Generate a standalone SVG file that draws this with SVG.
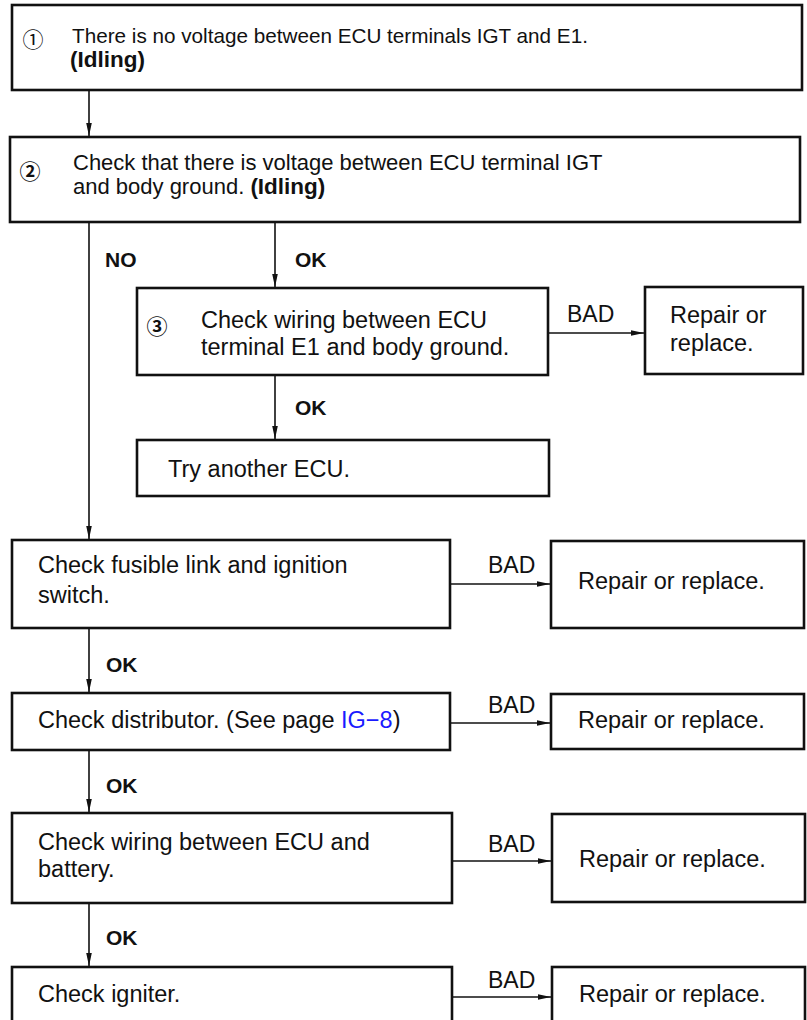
<svg xmlns="http://www.w3.org/2000/svg" width="807" height="1020" viewBox="0 0 807 1020">
<style>
.box{fill:#fff;stroke:#111;stroke-width:2.6}
.t{font-family:"Liberation Sans",Arial,sans-serif;font-size:23.5px;fill:#111}
.b{font-weight:bold}
.lbl{font-family:"Liberation Sans",Arial,sans-serif;font-size:21px;font-weight:bold;fill:#111}
.bad{font-family:"Liberation Sans",Arial,sans-serif;font-size:23px;fill:#111}
.num{font-family:"Noto Sans CJK JP","DejaVu Sans",sans-serif;font-size:21px;fill:#111;text-anchor:middle}
.link{fill:#1a1aff}
.c{stroke:#111;stroke-width:1.6;fill:none;marker-end:url(#ah)}
</style>
<defs>
<marker id="ah" markerUnits="userSpaceOnUse" markerWidth="14" markerHeight="8" refX="13" refY="4" orient="auto">
<path d="M0,1.2 L13,4 L0,6.8 Z" fill="#111"/>
</marker>
</defs>
<rect width="807" height="1020" fill="#fff"/>
<g id="connectors">
<path class="c" d="M89,90 V136"/>
<path class="c" d="M89,222 V539"/>
<path class="c" d="M275,222 V287"/>
<path class="c" d="M548,333 H644"/>
<path class="c" d="M275,375 V439"/>
<path class="c" d="M450,584 H550"/>
<path class="c" d="M89,628 V692"/>
<path class="c" d="M450,723 H550"/>
<path class="c" d="M89,750 V812"/>
<path class="c" d="M452,861 H551"/>
<path class="c" d="M89,903 V966"/>
<path class="c" d="M452,997 H551"/>
<text class="lbl" x="105" y="267">NO</text>
<text class="lbl" x="295" y="267">OK</text>
<text class="lbl" x="295" y="415">OK</text>
<text class="lbl" x="106" y="672">OK</text>
<text class="lbl" x="106" y="793">OK</text>
<text class="lbl" x="106" y="945">OK</text>
<text class="bad" x="567" y="322">BAD</text>
<text class="bad" x="488" y="573">BAD</text>
<text class="bad" x="488" y="713">BAD</text>
<text class="bad" x="488" y="852">BAD</text>
<text class="bad" x="488" y="988">BAD</text>
</g>
<g id="n1">
<rect class="box" x="12" y="5" width="790" height="85"/>
<text class="num" x="33" y="47">①</text>
<text class="t" x="72" y="43" style="font-size:20.7px">There is no voltage between ECU terminals IGT and E1.</text>
<text class="t b" x="70" y="67" style="font-size:22.5px">(Idling)</text>
</g>
<g id="n2">
<rect class="box" x="10" y="137" width="790" height="85"/>
<text class="num b" x="30" y="179">②</text>
<text class="t" x="73" y="170" style="font-size:22px">Check that there is voltage between ECU terminal IGT</text>
<text class="t" x="73" y="194" style="font-size:22px">and body ground. <tspan class="b" style="font-size:22.5px">(Idling)</tspan></text>
</g>
<g id="n3">
<rect class="box" x="137" y="288" width="411" height="87"/>
<text class="num b" x="157" y="334">③</text>
<text class="t" x="201" y="328">Check wiring between ECU</text>
<text class="t" x="201" y="355">terminal E1 and body ground.</text>
</g>
<g id="r1">
<rect class="box" x="645" y="287" width="158" height="87"/>
<text class="t" x="670" y="323">Repair or</text>
<text class="t" x="670" y="351">replace.</text>
</g>
<g id="n4">
<rect class="box" x="137" y="440" width="412" height="56"/>
<text class="t" x="168" y="477">Try another ECU.</text>
</g>
<g id="n5">
<rect class="box" x="12" y="540" width="438" height="88"/>
<text class="t" x="38" y="573">Check fusible link and ignition</text>
<text class="t" x="38" y="603">switch.</text>
</g>
<g id="r2">
<rect class="box" x="551" y="541" width="253" height="87"/>
<text class="t" x="578" y="589">Repair or replace.</text>
</g>
<g id="n6">
<rect class="box" x="12" y="693" width="438" height="57"/>
<text class="t" x="38" y="728">Check distributor. (See page <tspan class="link">IG−8</tspan>)</text>
</g>
<g id="r3">
<rect class="box" x="551" y="694" width="253" height="55"/>
<text class="t" x="578" y="728">Repair or replace.</text>
</g>
<g id="n7">
<rect class="box" x="12" y="813" width="440" height="90"/>
<text class="t" x="38" y="850">Check wiring between ECU and</text>
<text class="t" x="38" y="877">battery.</text>
</g>
<g id="r4">
<rect class="box" x="552" y="814" width="253" height="88"/>
<text class="t" x="579" y="867">Repair or replace.</text>
</g>
<g id="n8">
<rect class="box" x="12" y="967" width="440" height="70"/>
<text class="t" x="38" y="1002">Check igniter.</text>
</g>
<g id="r5">
<rect class="box" x="552" y="967" width="253" height="70"/>
<text class="t" x="579" y="1002">Repair or replace.</text>
</g>
</svg>
